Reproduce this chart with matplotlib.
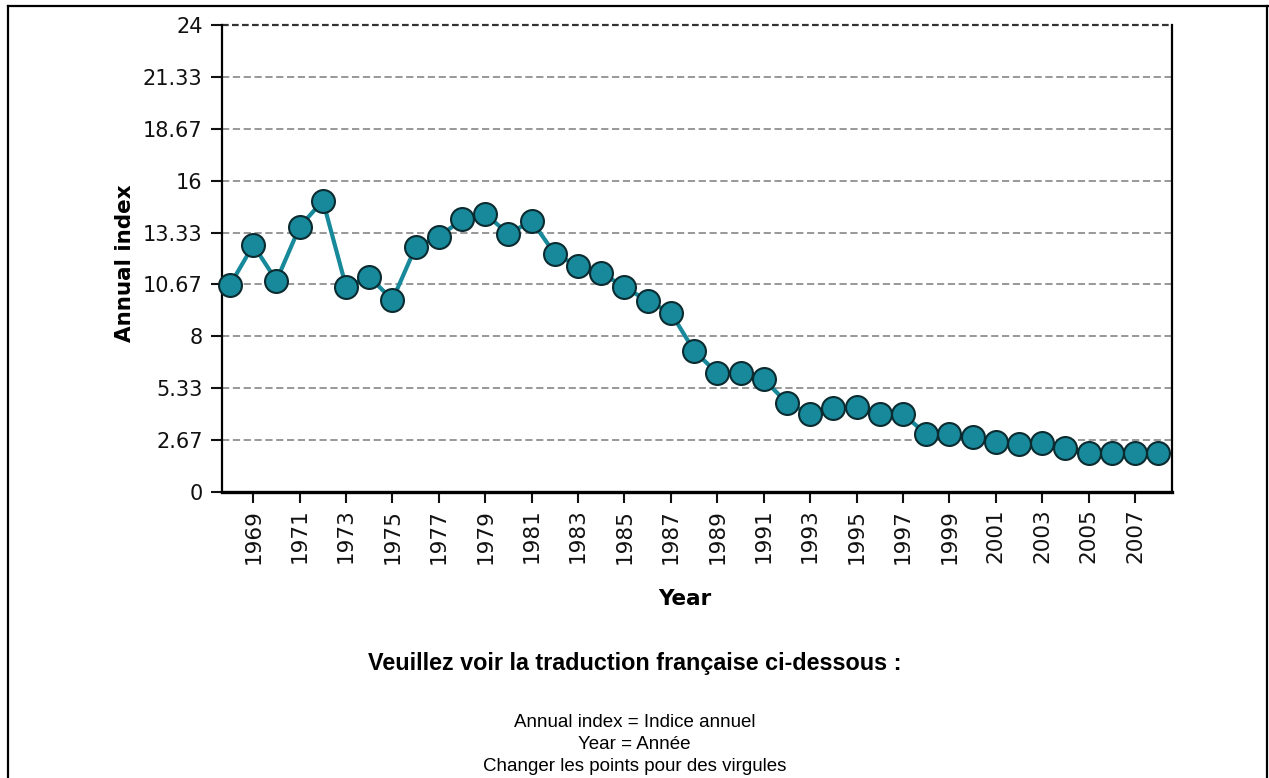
import matplotlib.pyplot as plt
from matplotlib.lines import Line2D

# --- data ---
years = list(range(1968, 2009))
annual_index = [10.64, 12.69, 10.86, 13.63, 14.97, 10.55, 11.06, 9.87, 12.60, 13.12,
                14.01, 14.29, 13.26, 13.94, 12.23, 11.61, 11.24, 10.55, 9.80, 9.21,
                7.26, 6.10, 6.13, 5.79, 4.59, 4.01, 4.30, 4.38, 4.01, 4.01,
                2.98, 2.98, 2.84, 2.59, 2.47, 2.53, 2.24, 1.99, 2.02, 1.99, 2.02]
y_ticks = [0, 2.67, 5.33, 8, 10.67, 13.33, 16, 18.67, 21.33, 24]
x_ticks = list(range(1969, 2008, 2))

translation_title = "Veuillez voir la traduction française ci-dessous :"
translation_lines = ["Annual index = Indice annuel", "Year = Année",
                     "Changer les points pour des virgules"]

teal = '#17899b'

fig = plt.figure(figsize=(12.69, 7.78), dpi=100)
ax = fig.add_axes([0.1749, 0.3676, 0.9236 - 0.1749, 0.9679 - 0.3676])

ax.plot(years, annual_index, color=teal, lw=3, zorder=3,
        marker='o', markersize=16.5, markerfacecolor=teal,
        markeredgecolor='#0b2b30', markeredgewidth=1.5, clip_on=False)

ax.set_xlim(1967.65, 2008.6)
ax.set_ylim(0, 24)
ax.set_yticks(y_ticks)
ax.set_yticklabels([f'{v:g}' for v in y_ticks])
ax.set_xticks(x_ticks)
ax.set_xticklabels([str(y) for y in x_ticks], rotation=90)

ax.tick_params(axis='y', labelsize=15, length=8, width=1.5, pad=6, colors='#111111')
ax.tick_params(axis='x', labelsize=15.5, length=8, width=1.5, pad=4, colors='#111111')

# dashed horizontal grid
for v in y_ticks[1:-1]:
    ax.axhline(v, color='#909090', lw=1.3, ls=(0, (4, 2)), zorder=1)
ax.axhline(24, color='#333333', lw=1.6, ls=(0, (3, 1.5)), zorder=1, clip_on=False)

ax.spines['top'].set_visible(False)
ax.spines['left'].set_linewidth(1.6)
ax.spines['right'].set_linewidth(1.6)
ax.spines['bottom'].set_linewidth(2.4)

ax.set_ylabel("Annual index", fontsize=15.5, fontweight='bold')
ax.set_xlabel("Year", fontsize=15.5, fontweight='bold')
ax.yaxis.set_label_coords(-0.091, 0.49)
ax.xaxis.set_label_coords(0.487, -0.208)

# translation notes below the chart
fig.text(0.5, 0.1478, translation_title, ha='center', va='center',
         fontsize=16.8, fontweight='bold', family='Liberation Sans')
for i, line in enumerate(translation_lines):
    fig.text(0.5, 0.0707 - i * 0.0277, line, ha='center', va='center',
             fontsize=13.5, family='Liberation Sans')

# frame around the whole image
W, H = 1269, 778
fx = lambda px: px / W
fy = lambda py: 1 - py / H
for xs, ys in [([8, 1268], [6, 6]), ([8, 8], [6, 778]), ([1267, 1267], [6, 778])]:
    fig.add_artist(Line2D([fx(x) for x in xs], [fy(y) for y in ys],
                          color='black', lw=1.6, transform=fig.transFigure))

plt.savefig('out.png', dpi=100)
